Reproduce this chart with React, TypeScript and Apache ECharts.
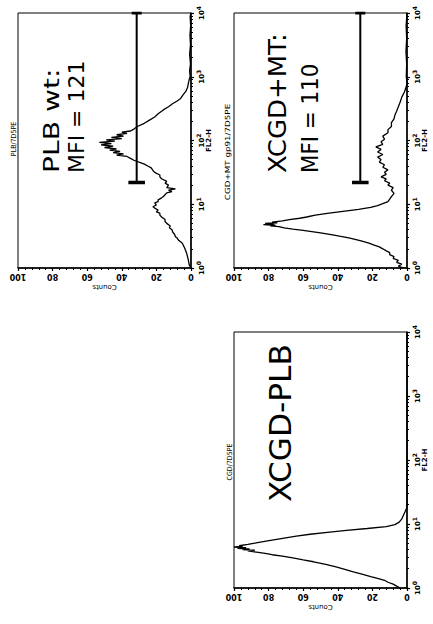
import React, { useEffect, useRef } from 'react';
import * as echarts from 'echarts';

// ---- Panel A: PLB wt (FL2-H channel value vs counts)
const plbFl2 = [1, 1.12, 1.32, 1.51, 1.7, 2.0, 2.29, 2.45, 2.69, 2.95, 3.09, 3.39, 3.63, 3.98, 4.27, 4.57, 5.01, 5.37, 5.75, 6.31, 6.76, 7.24, 7.59, 8.13, 8.71, 9.12, 9.77, 10.5, 11, 11.7, 12.6, 13.2, 14.1, 15.1, 15.8, 16.6, 17.4, 18.2, 20, 21.4, 22.9, 25.1, 26.9, 28.8, 31.6, 33.9, 37.2, 39.8, 42.7, 45.7, 49, 52.5, 56.2, 58.9, 61.7, 64.6, 67.6, 70.8, 74.1, 77.6, 81.3, 85.1, 89.1, 93.3, 97.7, 102, 107, 112, 117, 123, 129, 135, 141, 151, 166, 186, 209, 234, 263, 302, 339, 380, 417, 457, 525, 589, 676, 794, 912, 1000, 1259, 1585, 2239, 3162, 4467, 6310, 8913, 10000];
const plbCounts = [0, 1, 1.5, 2, 2.5, 3.5, 4.5, 5, 7, 8, 9, 9.5, 10.5, 11, 12.5, 12, 14, 15, 15, 17, 18, 18, 20, 19, 21, 22, 20, 21, 19, 19, 17, 16, 15, 14, 11, 13, 9, 14, 13, 15, 14, 17, 18, 18, 21, 22, 23, 25, 27, 30, 33, 35, 37, 43, 39, 45, 41, 47, 43, 50, 45, 52, 46, 53, 44, 49, 40, 46, 39, 43, 37, 40, 35, 33, 31, 27, 24, 21, 19, 16, 13, 10.5, 8, 6, 4.5, 3, 2, 1.5, 1, 0.5, 0.8, 0.3, 0.8, 0.3, 0.6, 0.2, 0.5, 0];

// ---- Panel B: XCGD+MT
const mtFl2 = [1, 1.07, 1.15, 1.23, 1.32, 1.41, 1.51, 1.62, 1.74, 1.86, 2.0, 2.14, 2.29, 2.45, 2.63, 2.82, 2.95, 3.16, 3.31, 3.55, 3.72, 3.89, 4.07, 4.27, 4.47, 4.57, 4.68, 4.79, 4.9, 5.01, 5.13, 5.25, 5.5, 5.75, 6.03, 6.31, 6.76, 7.24, 7.76, 8.32, 8.91, 9.55, 10.2, 11, 12, 13.2, 14.8, 16.6, 18.2, 20, 21.4, 23.4, 25.1, 26.9, 29.5, 31.6, 34.7, 38, 41.7, 45.7, 50.1, 55, 60.3, 66.1, 72.4, 79.4, 87.1, 95.5, 105, 117, 132, 148, 166, 191, 219, 251, 288, 339, 398, 479, 575, 692, 794, 1000, 1585, 2512, 3981, 6310, 10000];
const mtCounts = [2, 5, 3, 6, 5, 8, 7.5, 10, 10, 12, 14, 16, 19, 22, 26, 30, 33, 39, 43, 50, 55, 60, 66, 71, 74, 79, 76, 83, 77, 82, 75, 78, 72, 68, 62, 58, 53, 45, 37, 28, 21, 17, 14, 11, 10, 9, 7.5, 9, 8, 11, 10, 13, 12, 15, 12, 13, 11, 14, 13, 16, 15, 17, 14, 17, 15, 18, 14, 15, 13, 14, 11, 11, 9, 9, 7.5, 7, 6, 5, 4, 3, 1.5, 0.5, 0, 0.4, 0.2, 0.6, 0.2, 0.5, 0];

// ---- Panel C: XCGD-PLB
const cgdFl2 = [1, 1.07, 1.15, 1.23, 1.32, 1.41, 1.51, 1.62, 1.78, 1.95, 2.14, 2.34, 2.57, 2.75, 2.95, 3.16, 3.31, 3.47, 3.63, 3.8, 3.89, 3.98, 4.07, 4.17, 4.27, 4.37, 4.47, 4.57, 4.79, 5.01, 5.25, 5.62, 6.03, 6.46, 6.92, 7.41, 7.94, 8.51, 9.12, 9.77, 10.7, 12, 13.8, 15.8, 18.2, 10000];
const cgdCounts = [4, 6, 8, 11, 13, 17, 21, 25, 31, 36, 41, 47, 54, 60, 66, 72, 78, 82, 87, 92, 88, 95, 91, 98, 93, 100, 95, 97, 92, 88, 84, 78, 71, 64, 56, 46, 35, 23, 12, 7, 4.5, 3, 2, 1, 0, 0];

// ---- M1 gate markers: [counts level, FL2 start, FL2 end, cap half-width in counts]
const gatePlb = [31.4, 22, 10000, 4.8];
const gateMt = [27, 22, 10000, 4.8];

// ---- axes
const countTicks = [0, 20, 40, 60, 80, 100];
const fl2Decades = [1, 10, 100, 1000, 10000];

const panelTitles = ['PLB/7D5PE', 'CGD+MT gp91/7D5PE', 'CGD/7D5PE'];

const FONT = 'DejaVu Sans';

const grids = [
  { left: 18, top: 13, width: 173, height: 255 },
  { left: 234, top: 13, width: 173, height: 255 },
  { left: 234, top: 332, width: 173, height: 256 },
];

export default function App() {
  const ref = useRef<HTMLDivElement>(null);
  useEffect(() => {
    const chart = echarts.init(ref.current as HTMLDivElement, null, { renderer: 'svg' });

    const xAxes = grids.map((_, i) => ({
      gridIndex: i,
      type: 'value',
      min: countTicks[0],
      max: countTicks[countTicks.length - 1],
      interval: 20,
      inverse: true,
      position: 'bottom',
      axisLine: { show: true, onZero: false, lineStyle: { color: '#000', width: 1.5 } },
      axisTick: { show: true, length: 3, lineStyle: { color: '#000', width: 1.2 } },
      minorTick: { show: true, splitNumber: 5, length: 2, lineStyle: { color: '#000', width: 1 } },
      splitLine: { show: false },
      axisLabel: { rotate: 180, fontSize: 8, fontWeight: 'bold', color: '#000', margin: 4, fontFamily: FONT },
      name: 'Counts',
      nameLocation: 'middle',
      nameRotate: 180,
      nameGap: 15,
      nameTextStyle: { fontSize: 7, color: '#000', fontFamily: FONT },
    }));

    const yAxes = grids.map((_, i) => ({
      gridIndex: i,
      type: 'log',
      logBase: 10,
      min: fl2Decades[0],
      max: fl2Decades[fl2Decades.length - 1],
      position: 'right',
      axisLine: { show: true, onZero: false, lineStyle: { color: '#000', width: 1.5 } },
      axisTick: { show: true, length: 3, lineStyle: { color: '#000', width: 1.2 } },
      minorTick: { show: true, splitNumber: 9, length: 2, lineStyle: { color: '#000', width: 1 } },
      splitLine: { show: false },
      axisLabel: {
        rotate: 90,
        margin: 4,
        color: '#000',
        formatter: (v: number) => `{b|10}{s|${Math.round(Math.log10(v))}}`,
        rich: {
          b: { fontSize: 7, fontWeight: 'bold', fontFamily: FONT, color: '#000', lineHeight: 10, verticalAlign: 'bottom' },
          s: { fontSize: 6, fontWeight: 'bold', fontFamily: FONT, color: '#000', lineHeight: 6, verticalAlign: 'top' },
        },
      },
      name: 'FL2-H',
      nameLocation: 'middle',
      nameRotate: 90,
      nameGap: 13,
      nameTextStyle: { fontSize: 7, fontWeight: 'bold', color: '#000', fontFamily: FONT },
    }));

    const curve = (i: number, fl2: number[], counts: number[]) => ({
      type: 'line',
      xAxisIndex: i,
      yAxisIndex: i,
      data: counts.map((c, k) => [c, fl2[k]]),
      symbol: 'none',
      silent: true,
      lineStyle: { color: '#000', width: 1.3 },
    });
    const gate = (i: number, g: number[]) => [
      {
        type: 'line', xAxisIndex: i, yAxisIndex: i, symbol: 'none', silent: true,
        data: [[g[0], g[1]], [g[0], g[2]]],
        lineStyle: { color: '#000', width: 2 },
      },
      {
        type: 'line', xAxisIndex: i, yAxisIndex: i, symbol: 'none', silent: true,
        data: [[g[0] + g[3], g[1]], [g[0] - g[3], g[1]]],
        lineStyle: { color: '#000', width: 3.5 },
      },
      {
        type: 'line', xAxisIndex: i, yAxisIndex: i, symbol: 'none', silent: true,
        data: [[g[0] + g[3] * 0.6, g[2]], [g[0] - g[3] * 0.6, g[2]]],
        lineStyle: { color: '#000', width: 3 },
      },
    ];

    const bigText = (text: string, x: number, y: number, size: number, sx: number) => ({
      type: 'text',
      x, y,
      rotation: Math.PI / 2,
      scaleX: sx,
      silent: true,
      style: {
        text, fill: '#000', fontSize: size, fontFamily: FONT,
        textAlign: 'left', align: 'left', textVerticalAlign: 'middle', verticalAlign: 'middle',
      },
    });
    const smallText = (text: string, x: number, y: number, sx: number) => ({
      type: 'text',
      x, y,
      rotation: Math.PI / 2,
      scaleX: sx,
      silent: true,
      style: {
        text, fill: '#000', fontSize: 7, fontFamily: FONT,
        textAlign: 'center', align: 'center', textVerticalAlign: 'middle', verticalAlign: 'middle',
      },
    });

    const option = {
      animation: false,
      backgroundColor: '#fff',
      grid: grids.map((g) => ({ ...g, show: true, borderColor: '#000', borderWidth: 1, backgroundColor: 'transparent' })),
      xAxis: xAxes,
      yAxis: yAxes,
      series: [
        curve(0, plbFl2, plbCounts),
        curve(1, mtFl2, mtCounts),
        curve(2, cgdFl2, cgdCounts),
        ...gate(0, gatePlb),
        ...gate(1, gateMt),
      ],
      graphic: [
        bigText('PLB wt:', 52, 173, 22, 1.28),
        bigText('MFI = 121', 76.5, 173, 22, 1.0),
        bigText('XCGD+MT:', 277.5, 173, 24, 1.08),
        bigText('MFI = 110', 309.5, 173, 23, 0.93),
        bigText('XCGD-PLB', 280.5, 502, 30, 1.04),
        smallText(panelTitles[0], 14, 139, 0.9),
        smallText(panelTitles[1], 228, 152, 1.25),
        smallText(panelTitles[2], 230, 462, 0.9),
      ],
    };

    chart.setOption(option as any);
    return () => chart.dispose();
  }, []);

  return (
    <div
      ref={ref}
      style={{ position: 'fixed', left: 0, top: 0, width: 433, height: 624, background: '#fff' }}
    />
  );
}
